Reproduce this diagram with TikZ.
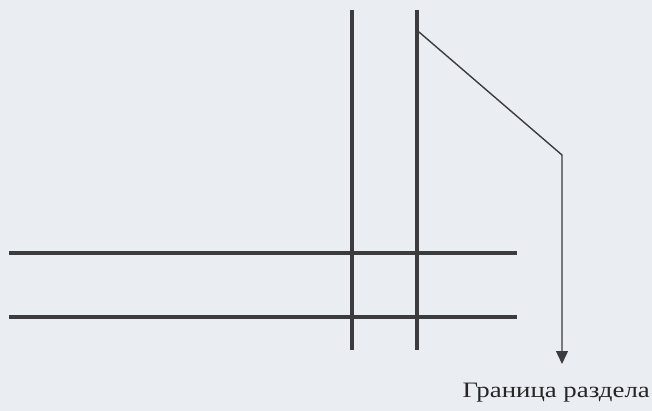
\documentclass[tikz,border=0pt]{standalone}
\usepackage{fontspec}
\usepackage{graphicx}
\setmainfont{Liberation Serif}
\usetikzlibrary{arrows.meta}
\definecolor{paper}{RGB}{234,237,242}
\definecolor{ink}{RGB}{60,60,62}
\tikzset{
  thickline/.style={draw=ink, line width=3.6pt},
  leader/.style={draw=ink, line width=1.4pt, -{Triangle[length=13pt,width=12pt]}},
  label/.style={font=\fontsize{22}{26}\selectfont, text=black!85, inner sep=0pt, anchor=base east}
}
\begin{document}
\begin{tikzpicture}[x=1pt,y=-1pt]
  \fill[paper] (0,0) rectangle (652,411);
  \useasboundingbox (0,0) rectangle (652,411);
  % vertical lines
  \coordinate (v1t) at (352,10);
  \coordinate (v1b) at (352,350);
  \coordinate (v2t) at (417,10);
  \coordinate (v2b) at (417,350);
  % horizontal lines
  \coordinate (h1l) at (9,253);
  \coordinate (h1r) at (517,253);
  \coordinate (h2l) at (9,317);
  \coordinate (h2r) at (517,317);
  \draw[thickline] (v1t) -- (v1b);
  \draw[thickline] (v2t) -- (v2b);
  \draw[thickline] (h1l) -- (h1r);
  \draw[thickline] (h2l) -- (h2r);
  % leader arrow
  \coordinate (a0) at (419,32);
  \coordinate (a1) at (562,155);
  \coordinate (a2) at (562,364);
  \draw[leader] (a0) -- (a1) -- (a2);
  \node[label] (lbl) at (650,397) {\scalebox{1.22}[1]{Граница раздела}};
\end{tikzpicture}
\end{document}
